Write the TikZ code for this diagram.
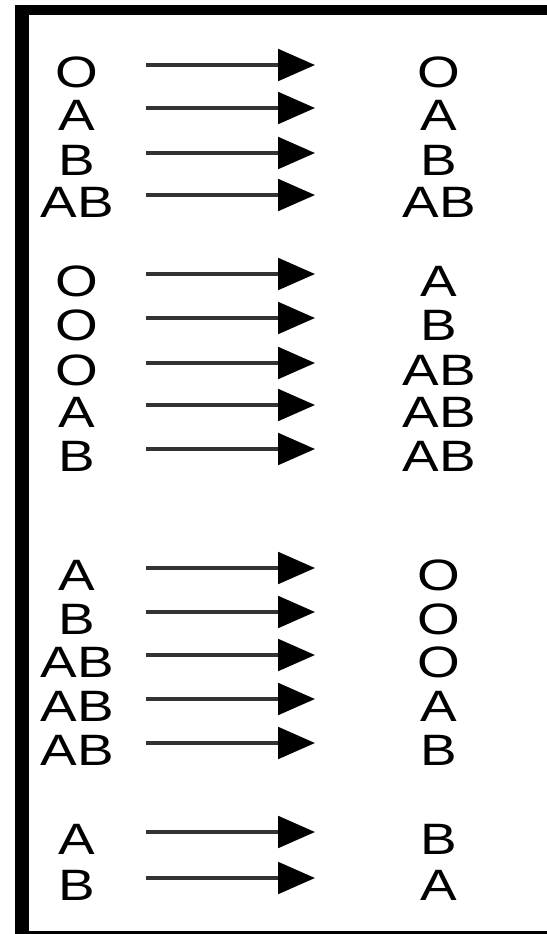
\documentclass[tikz,border=0pt]{standalone}
\usepackage{fontspec}
\newfontfamily\typefont[FakeStretch=1.25]{Liberation Sans}
\usetikzlibrary{arrows.meta}

\begin{document}
\begin{tikzpicture}[x=0.02cm,y=-0.02cm,
    bloodtype/.style={font=\typefont\fontsize{25}{25}\selectfont, anchor=base, inner sep=0pt},
    change/.style={draw=black!80, line width=1.8pt, -{Triangle[length=21pt,width=18pt,color=black]}}]
  \useasboundingbox (0,0) rectangle (547,934);
  % frame, open on the right
  \fill (15,5) rectangle (29,934);
  \fill (15,5) rectangle (547,15);
  \fill (15,931) rectangle (547,934);
  % donor -> recipient rows
  \foreach \y/\from/\to [count=\i] in {65/O/O, 108/A/A, 153/B/B, 195/AB/AB,
      274/O/A, 318/O/B, 363/O/AB, 405/A/AB, 449/B/AB,
      568/A/O, 612/B/O, 655/AB/O, 699/AB/A, 743/AB/B,
      832/A/B, 878/B/A} {
    \node[bloodtype] (from\i) at (77,\y+22) {\from};
    \node[bloodtype] (to\i) at (439,\y+22) {\to};
    \coordinate (tail\i) at (146,\y);
    \coordinate (tip\i) at (315,\y);
    \draw[change] (tail\i) -- (tip\i);
  }
\end{tikzpicture}
\end{document}
